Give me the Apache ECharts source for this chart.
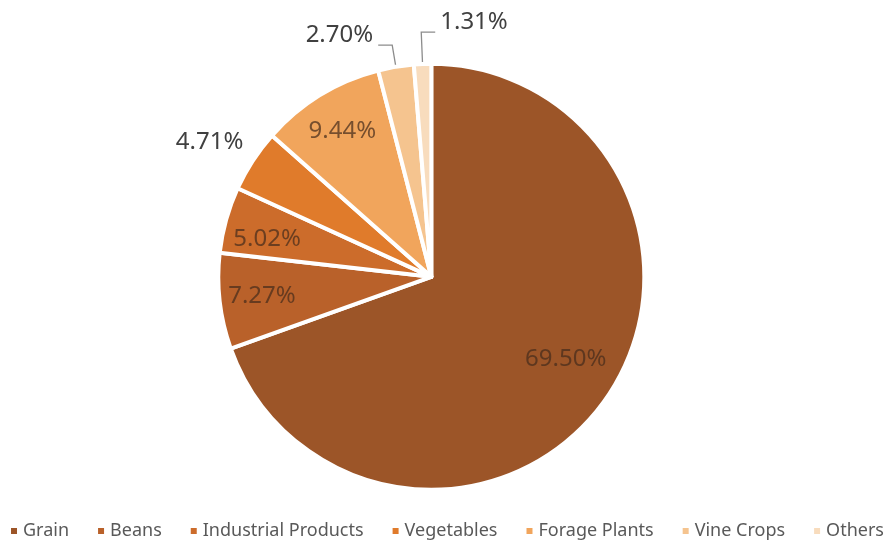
<!DOCTYPE html>
<html><head><meta charset="utf-8">
<script src="https://cdn.jsdelivr.net/npm/echarts@6/dist/echarts.min.js"></script>
<style>html,body{margin:0;padding:0;background:#fff}#c{width:893px;height:545px}</style>
</head><body><div id="c"></div>
<script>
const categories = ['Grain','Beans','Industrial Products','Vegetables','Forage Plants','Vine Crops','Others'];
const values = [69.50, 7.27, 5.02, 4.71, 9.44, 2.70, 1.31];
const colors = ['#9C5528','#B9612A','#CC6C2B','#E07B2B','#F1A55C','#F5C48F','#F8DCBD'];
const outsideLabels = ['Vegetables','Vine Crops','Others'];

const chart = echarts.init(document.getElementById('c'));
const font = '"Noto Sans", "Open Sans", sans-serif';
const center = ['48.3%', '50.8%'];
const R = 213;

const shapeData = categories.map((n,i)=>({name:n, value:values[i], itemStyle:{color:colors[i]}}));
const labelData = categories.map((n,i)=>{
  const outside = outsideLabels.indexOf(n) >= 0;
  return {
    name:n, value:values[i],
    itemStyle:{color:'rgba(0,0,0,0)', borderWidth:0},
    label: outside ? {position:'outside', color:'#404040'} : {position:'inside', color:'rgba(70,45,28,0.72)'},
    labelLine: outside ? {show: n !== 'Vegetables', length: n === 'Others' ? 32 : 22, length2: 14, lineStyle:{color:'#8c8c8c', width:1.3}} : {show:false}
  };
});

// small label nudges (style only)
const nudges = {
  'Grain': {dx:-5, dy:-16},
  'Industrial Products': {dx:0, dy:8},
  'Vegetables': {dx:28, dy:-6},
  'Vine Crops': {dx:0, dy:-10}
};

chart.setOption({
  animation:false,
  legend:{
    bottom: 0, left: 'center',
    icon:'rect', itemWidth:8, itemHeight:8, itemGap:27,
    textStyle:{fontFamily:font, fontSize:18, color:'#595959'},
    data: categories
  },
  series:[
    {
      type:'pie', radius:[0,R], center:center, startAngle:90, clockwise:true,
      silent:true, label:{show:false}, labelLine:{show:false},
      itemStyle:{borderColor:'#fff', borderWidth:4},
      data: shapeData
    },
    {
      type:'pie', radius:[122,R], center:center, startAngle:90, clockwise:true,
      silent:true, avoidLabelOverlap:false,
      label:{show:true, fontFamily:font, fontSize:24, formatter: p => p.value.toFixed(2)+'%'},
      labelLayout: function(p){
        const name = categories[p.dataIndex];
        if (name === 'Others' && p.labelLinePoints) {
          const pts = p.labelLinePoints;
          const p0 = pts[0], p1 = pts[1];
          const seg = Math.abs(pts[2][0]-p1[0]);
          const p2 = [p1[0]+seg, p1[1]];
          return {x: p2[0]+5, y: p2[1]-10, align:'left', verticalAlign:'middle', labelLinePoints:[p0,p1,p2]};
        }
        return nudges[name] || {};
      },
      data: labelData
    }
  ]
});
</script></body></html>
